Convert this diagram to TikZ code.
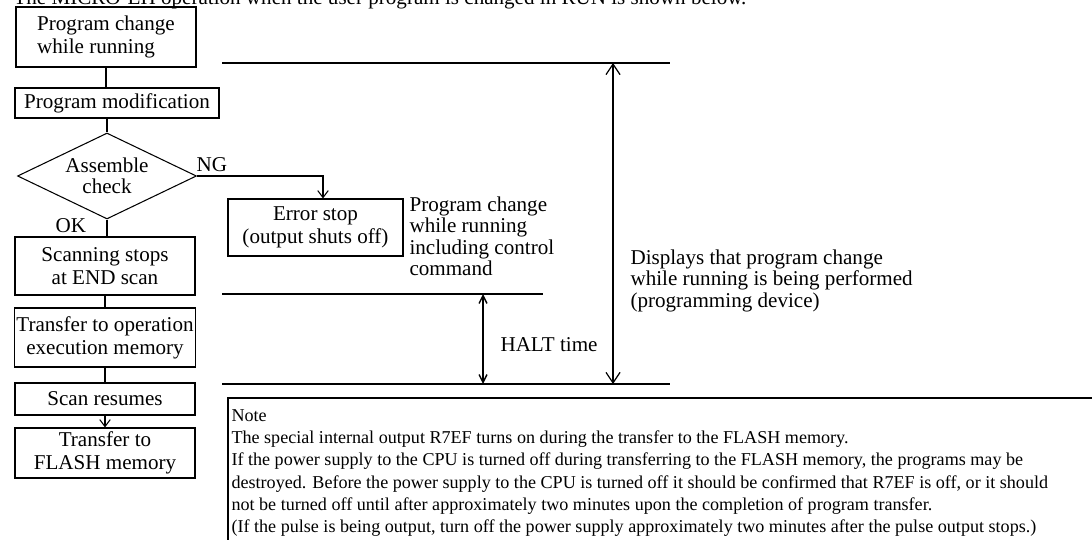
\documentclass[tikz,border=0pt]{standalone}
\usepackage{fontspec}
\setmainfont{Liberation Serif}
\usetikzlibrary{calc, positioning, arrows.meta, shapes.geometric}

\begin{document}
\begin{tikzpicture}[x=0.02cm, y=-0.02cm, line width=0.6pt,
  box/.style={draw, align=center, minimum width=3.6cm, inner sep=1pt, font=\fontsize{12}{13}\selectfont},
  txt/.style={align=left, inner sep=0pt, font=\fontsize{12}{12.2}\selectfont},
  notetxt/.style={align=left, inner sep=0pt, font=\fontsize{10.3}{12.66}\selectfont},
  flowtip/.style={-{Straight Barb[length=4pt,width=6pt]}},
  halttip/.style={{Straight Barb[length=4.5pt,width=4.5pt]}-{Straight Barb[length=4.5pt,width=4.5pt]}, line width=0.8pt},
  bigtip/.style={{Straight Barb[length=6pt,width=8pt]}-{Straight Barb[length=6pt,width=8pt]}, line width=0.7pt},
  timeline/.style={line width=0.75pt}]
\useasboundingbox (0,0) rectangle (1092,540);
\clip (0,0) rectangle (1092,540);
% Caption (cut off at the top)
\node[txt, anchor=base west] (cap) at (13,5) {The MICRO-EH operation when the user program is changed in RUN is shown below.};
% Flow chart
\node[box, align=left, minimum height=1.2cm] (chg) at (106,37) {Program change\\while running};
\node[box, minimum width=4.08cm, minimum height=0.6cm] (mod) at (117,103) {Program modification};
\node[diamond, draw, minimum width=3.58cm, minimum height=1.72cm, inner sep=0pt] (chk) at (107,176) {};
\node[txt, align=center] (chkt) at (chk) {Assemble\\check};
\node[box, minimum width=3.5cm, minimum height=1.14cm] (err) at (315.5,227.5) {Error stop\\(output shuts off)};
\node[box, minimum height=1.16cm] (scan) at (105,266) {Scanning stops\\at END scan};
\node[box, minimum height=1.18cm] (trf) at (105,337.5) {Transfer to operation\\execution memory};
\node[box, minimum height=0.64cm] (res) at (105,399) {Scan resumes};
\node[box, minimum height=1.0cm] (fls) at (105,453) {Transfer to\\FLASH memory};
% Branch labels
\node[txt, anchor=base west] (ng) at (196,172) {NG};
\node[txt, anchor=base west] (ok) at (55,233) {OK};
% Connectors
\draw (chg.south) -- (chg.south |- mod.north);
\draw (chk.north |- mod.south) -- (chk.north);
\draw[flowtip] (chk.east) -| ($(err.north)+(7.5,0)$);
\draw (chk.south) -- (chk.south |- scan.north);
\draw (scan.south) -- (trf.north);
\draw (trf.south) -- (res.north);
\draw[flowtip] (res.south) -- (fls.north);
% Time lines
\coordinate (t0) at (222,63);  \coordinate (t1) at (670,63);
\coordinate (m0) at (222,294); \coordinate (m1) at (543,294);
\coordinate (b0) at (222,384); \coordinate (b1) at (670,384);
\draw[timeline] (t0) -- (t1);
\draw[timeline] (m0) -- (m1);
\draw[timeline] (b0) -- (b1);
% HALT time and display period
\coordinate (hu) at (483,294); \coordinate (hd) at (483,384);
\coordinate (du) at (613,63);  \coordinate (dd) at (613,384);
\draw[halttip] (hu) -- (hd);
\draw[bigtip] (du) -- (dd);
\node[txt, anchor=north west] (pcw) at (409,196) {Program change\\while running\\including control\\command};
\node[txt, anchor=base west] (halt) at (500,352) {HALT time};
\node[txt, anchor=north west] (disp) at (630,249) {Displays that program change\\while running is being performed\\(programming device)};
% Note box
\draw[line width=1.2pt] (228,560) |- (1100,398);
\node[notetxt, anchor=north west] (note) at (231,409) {Note\\
The special internal output R7EF turns on during the transfer to the FLASH memory.\\
If the power supply to the CPU is turned off during transferring to the FLASH memory, the programs may be\\
destroyed. Before the power supply to the CPU is turned off it should be confirmed that R7EF is off, or it should\\
not be turned off until after approximately two minutes upon the completion of program transfer.\\
(If the pulse is being output, turn off the power supply approximately two minutes after the pulse output stops.)};
\end{tikzpicture}
\end{document}
